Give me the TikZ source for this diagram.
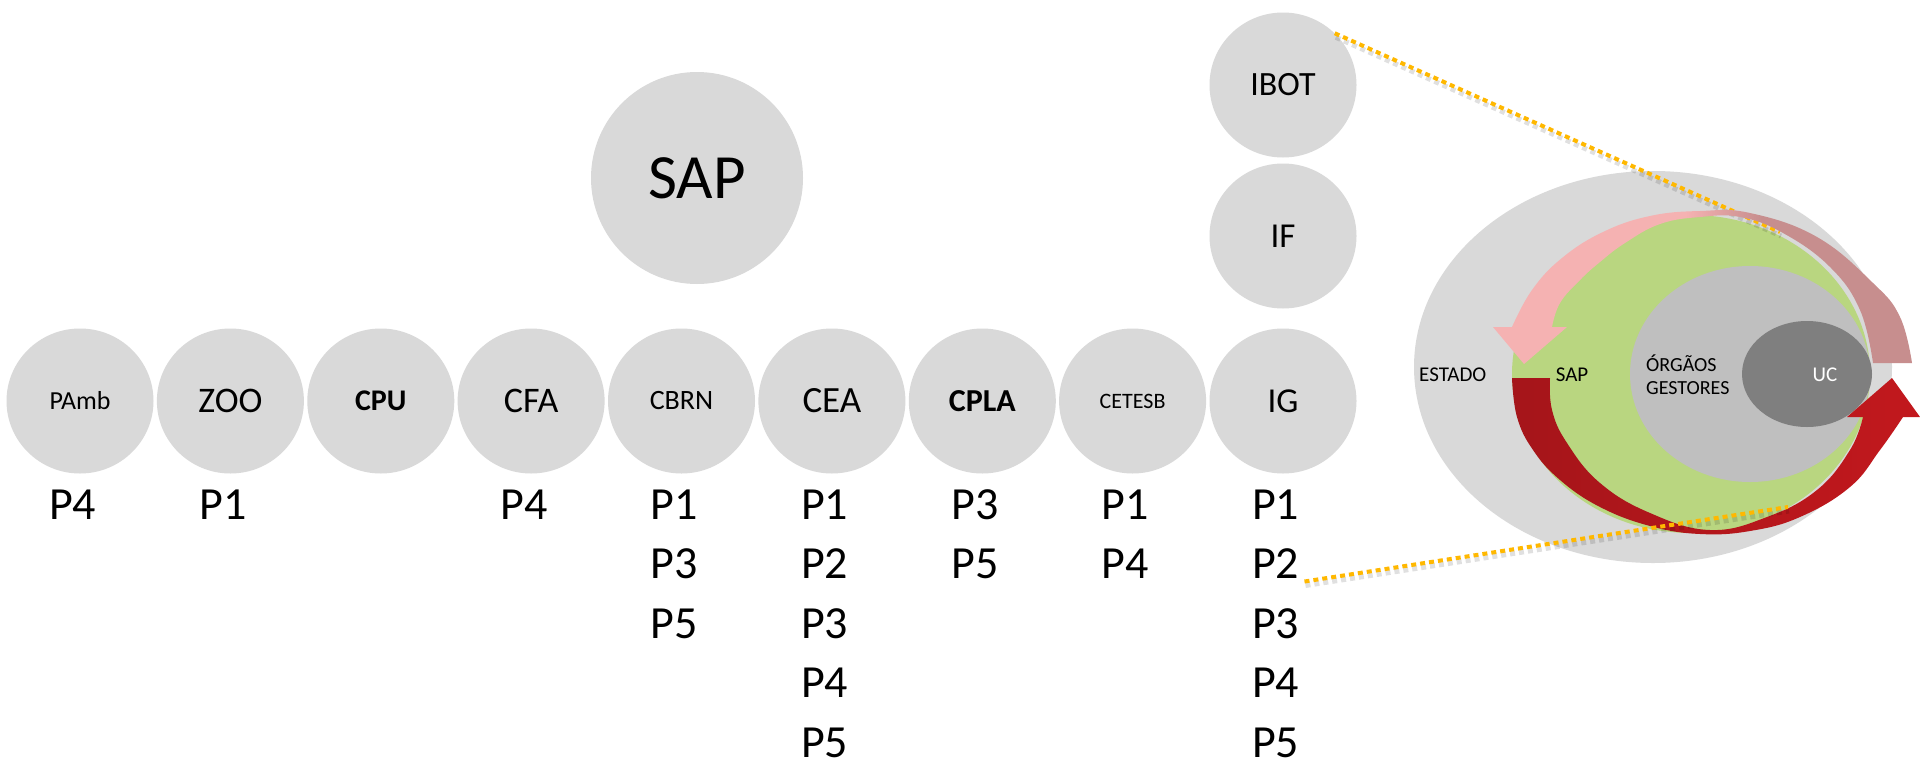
\documentclass[tikz,border=0pt]{standalone}
\usepackage{fontspec}
\setmainfont{Carlito}
\usetikzlibrary{shapes.geometric}
\definecolor{circ}{HTML}{D9D9D9}
\definecolor{sapgreen}{HTML}{B9D680}
\definecolor{orgao}{HTML}{BFBFBF}
\definecolor{ucgray}{HTML}{7F7F7F}
\definecolor{pinkL}{HTML}{F5B2B2}
\definecolor{pinkD}{HTML}{C78E8E}
\definecolor{redA}{HTML}{A5151A}
\definecolor{redB}{HTML}{C2181D}
\definecolor{dotor}{HTML}{FFB800}
\pgfdeclarehorizontalshading{pinkshade}{100bp}{color(0bp)=(pinkL); color(48bp)=(pinkL); color(57bp)=(pinkD); color(100bp)=(pinkD)}
\newcommand\fsz[1]{\fontsize{#1}{#1}\selectfont}
\newcommand\plistcol[3]{\foreach \pp [count=\ii] in {#3} {\node[plab] (#1-\ii) at (#2-31, 519+59.5*\ii-59.5) {P\pp};}}
\begin{document}
\begin{tikzpicture}[x=1pt,y=-1pt,
  org/.style={ellipse, fill=circ, minimum width=147pt, minimum height=145pt, inner sep=0pt},
  plab/.style={anchor=base west, inner sep=0pt, font=\fsz{46}},
  dotline/.style={dotor, line width=4pt, dash pattern=on 5pt off 4pt},
  dotshadow/.style={black, opacity=0.12, line width=5pt, dash pattern=on 5pt off 4pt},
]
\useasboundingbox (0,0) rectangle (1920,766);
\fill[white] (0,0) rectangle (1920,766);

% big SAP
\node[ellipse, fill=circ, minimum width=212pt, minimum height=212pt, inner sep=0pt, font=\fsz{63}] (SAP) at (697,178) {SAP};

% row of organs
\node[org, font=\fsz{26}] (PAmb) at (80,401) {PAmb};
\node[org, font=\fsz{36}] (ZOO) at (230.4,401) {ZOO};
\node[org, font=\bfseries\fsz{30}] (CPU) at (380.8,401) {CPU};
\node[org, font=\fsz{36}] (CFA) at (531.1,401) {CFA};
\node[org, font=\fsz{28}] (CBRN) at (681.5,401) {CBRN};
\node[org, font=\fsz{37}] (CEA) at (831.9,401) {CEA};
\node[org, font=\bfseries\fsz{32}] (CPLA) at (982.3,401) {CPLA};
\node[org, font=\fsz{22}] (CETESB) at (1132.6,401) {CETESB};
\node[org, font=\fsz{35}] (IG) at (1283,401) {IG};
\node[org, font=\fsz{35}] (IF) at (1283,236) {IF};
\node[org, font=\fsz{34}] (IBOT) at (1283,85) {IBOT};

% P lists
\plistcol{PAmb}{80}{4}
\plistcol{ZOO}{230.4}{1}
\plistcol{CFA}{531.1}{4}
\plistcol{CBRN}{681.5}{1,3,5}
\plistcol{CEA}{831.9}{1,2,3,4,5}
\plistcol{CPLA}{982.3}{3,5}
\plistcol{CETESB}{1132.6}{1,4}
\plistcol{IG}{1283}{1,2,3,4,5}

% right diagram
\fill[circ] (1653,367) ellipse [x radius=239, y radius=196];
\fill[sapgreen] (1691,374) ellipse [x radius=179, y radius=159];
\fill[orgao] (1750,374) ellipse [x radius=120, y radius=108];
\fill[ucgray] (1807,374) ellipse [x radius=65, y radius=53];

\coordinate (upend) at (1780,232);
\draw[dotshadow] ([xshift=1pt,yshift=-4pt]IBOT.45) -- ([xshift=1pt,yshift=-4pt]upend);
\draw[dotline] (IBOT.45) -- (upend);

% pink arrow
\shade[shading=pinkshade] (1493,327) -- (1524,364) -- (1567,327) -- (1552,327)
  -- plot[smooth, tension=0.7] coordinates {(1552,327) (1560,303) (1580,280) (1600,262) (1625,243) (1660,224) (1700,217) (1740,217) (1783,233) (1830,267) (1860,310) (1873,363)}
  -- (1912,363)
  -- plot[smooth, tension=0.7] coordinates {(1912,363) (1900,317) (1873,283) (1817,237) (1750,213) (1700,211) (1650,216) (1603,232) (1562,258) (1532,290) (1512,327)}
  -- cycle;

% red arrow
\shade[left color=redA, right color=redB] (1512,378) -- (1550,378)
  -- plot[smooth, tension=0.7] coordinates {(1550,378) (1552,410) (1567,443) (1600,483) (1650,513) (1710,530) (1767,517) (1817,490) (1850,450) (1863,417)}
  -- (1847,417) -- (1892,378) -- (1920,417) -- (1903,417)
  -- plot[smooth, tension=0.7] coordinates {(1903,417) (1880,450) (1850,487) (1800,517) (1750,531) (1700,534) (1650,526) (1600,507) (1560,480) (1533,450) (1517,417) (1512,378)}
  -- cycle;

\node[font=\fsz{21}, anchor=west, inner sep=0pt] (estado) at (1419,375) {ESTADO};
\node[font=\fsz{21}, inner sep=0pt] (sapl) at (1572,375) {SAP};
\node[font=\fontsize{20}{23}\selectfont, anchor=west, align=left, inner sep=0pt] (orgaos) at (1646,375) {ÓRGÃOS\\GESTORES};
\node[font=\fsz{21}, text=white, inner sep=0pt] (uc) at (1825,375) {UC};

\coordinate (lowend) at (1788,507);
\draw[dotshadow] ([xshift=6pt,yshift=-7pt]IG-2.base east) -- ([xshift=1pt,yshift=-4pt]lowend);
\draw[dotline] ([xshift=5pt,yshift=-3pt]IG-2.base east) -- (lowend);
\end{tikzpicture}
\end{document}
